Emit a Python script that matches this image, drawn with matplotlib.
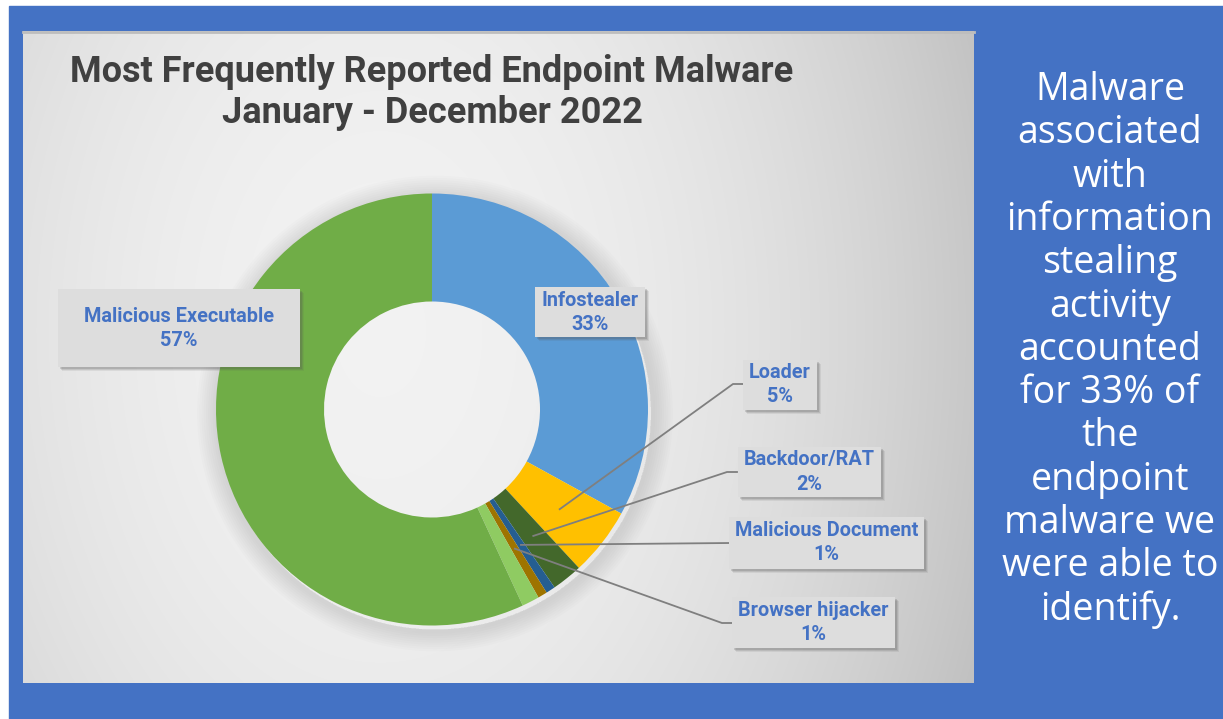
import numpy as np
import matplotlib
matplotlib.use("Agg")
import matplotlib.pyplot as plt
from matplotlib.patches import Rectangle, Wedge

# data (percent of endpoint malware)
categories = ["Infostealer", "Loader", "Backdoor/RAT", "Malicious Document",
              "Browser hijacker", "Other", "Malicious Executable"]
shares = [33.0, 5.1, 2.3, 0.7, 0.7, 1.3, 56.9]
colors = ["#5B9BD5", "#FFC000", "#43682B", "#255E91", "#9E7400", "#8FCB62", "#70AD47"]

title = "Most Frequently Reported Endpoint Malware\nJanuary - December 2022"
side_note = ["Malware", "associated", "with", "information", "stealing", "activity",
             "accounted", "for 33% of", "the", "endpoint", "malware we",
             "were able to", "identify."]

W, H = 1223, 719
def Y(y):
    # pixel rows counted from the top
    return H - y

cond = ["Liberation Sans Narrow", "Roboto", "DejaVu Sans"]
blue_txt = "#4472C4"

fig = plt.figure(figsize=(W / 100, H / 100), dpi=100)
fig.patch.set_facecolor("white")
ax = fig.add_axes([0, 0, 1, 1])

# blue background and grey gradient panel
ax.add_patch(Rectangle((9, 0), W - 9, Y(6), color="#4472C4", zorder=0))
px0, px1, py0, py1 = 23, 974, 31, 683
xx, yy = np.meshgrid(np.arange(px0, px1), np.arange(py0, py1))
dx = (xx - 380) / 600
dy = (yy - 330) / 450
val = np.clip(0.95 - 0.17 * dx ** 2 - 0.045 * dy ** 2, 0, 1)
ax.imshow(np.dstack([val, val, val]), extent=(px0, px1, Y(py1), Y(py0)),
          origin="upper", zorder=1, interpolation="bilinear")
ax.plot([px0, px1], [Y(py0) - 1, Y(py0) - 1], color="#BDBDBD", lw=2, zorder=2)

# donut with a soft outer shadow
cx, cy, R = 432, Y(409.5), 216
for k in range(9):
    ax.add_patch(Wedge((cx + 3, cy - 4), R + 2 + (k + 1) * 2.2, 0, 360,
                       width=2 + (k + 1) * 2.2, color="#808080", alpha=0.022,
                       lw=0, zorder=2))
wedges, _ = ax.pie(shares, colors=colors, startangle=90, counterclock=False,
                   radius=R, center=(cx, cy),
                   wedgeprops=dict(width=R / 2, edgecolor="none"))
for w in wedges:
    w.set_zorder(3)

# label boxes: (index, left, top, width, height)
boxes = [(6, 58, 289, 242, 78), (0, 535, 287, 110, 50), (1, 743, 360, 74, 50),
         (2, 738, 447, 143, 50), (3, 729, 517, 195, 52), (4, 732, 597, 163, 51)]
# leader line ends (box side) for the small slices
leaders = {1: [(733, 384), (743, 384)], 2: [(727, 472), (737, 472)],
           3: [(730, 543)], 4: [(722, 623), (732, 623)]}

for i, ends in leaders.items():
    w = wedges[i]
    mid = np.deg2rad((w.theta1 + w.theta2) / 2)
    xs = [cx + 0.75 * R * np.cos(mid)] + [e[0] for e in ends]
    ys = [cy + 0.75 * R * np.sin(mid)] + [Y(e[1]) for e in ends]
    ax.plot(xs, ys, color="#7F7F7F", lw=1.3, zorder=4)

for i, bx, by, bw, bh in boxes:
    for s, a in [(4, 0.10), (3, 0.15), (2, 0.2)]:
        ax.add_patch(Rectangle((bx + s, Y(by + bh + s)), bw, bh, color="#555555",
                               alpha=a, lw=0, zorder=5))
    ax.add_patch(Rectangle((bx, Y(by + bh)), bw, bh, facecolor="#DDDDDD",
                           edgecolor="none", zorder=6))
    mc = by + bh / 2
    ax.text(bx + bw / 2, Y(mc - 12), categories[i], ha="center", va="center",
            fontsize=14.3, fontweight="bold", color=blue_txt, family=cond, zorder=7)
    ax.text(bx + bw / 2, Y(mc + 12), f"{round(shares[i])}%", ha="center", va="center",
            fontsize=14.3, fontweight="bold", color=blue_txt, family=cond, zorder=7)

# title
t1, t2 = title.split("\n")
ax.text(432, Y(72), t1, ha="center", va="center", fontsize=26, fontweight="bold",
        color="#404040", family=cond, zorder=7)
ax.text(432, Y(113), t2, ha="center", va="center", fontsize=26, fontweight="bold",
        color="#404040", family=cond, zorder=7)

# side note
for j, line in enumerate(side_note):
    ax.text(1110, Y(90 + j * 43.3), line, ha="center", va="center", fontsize=27,
            color="white", family=["Open Sans", "DejaVu Sans"], fontweight="medium",
            zorder=7)

ax.set_xlim(0, W)
ax.set_ylim(0, H)
ax.set_aspect("auto")
ax.axis("off")

fig.savefig("out.png", dpi=100, facecolor=fig.get_facecolor())
